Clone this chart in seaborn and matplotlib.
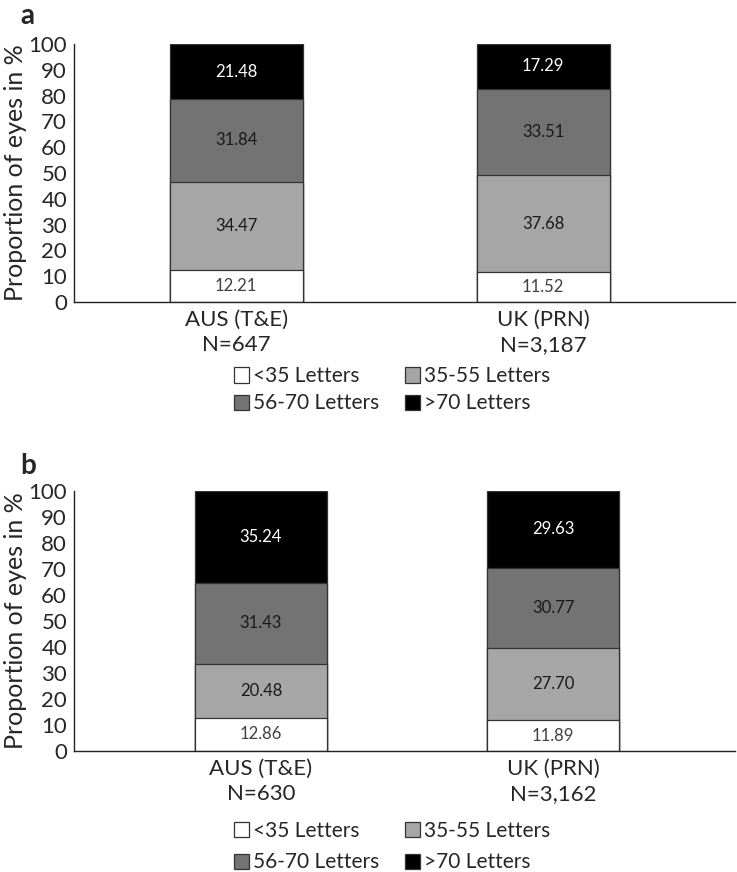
import numpy as np
import pandas as pd
import matplotlib
matplotlib.use("Agg")
import matplotlib.pyplot as plt
import seaborn as sns
from matplotlib.patches import Patch

# data
groups = ["AUS (T&E)", "UK (PRN)"]
n_a = ["N=647", "N=3,187"]
n_b = ["N=630", "N=3,162"]
categories = ["<35 Letters", "35-55 Letters", "56-70 Letters", ">70 Letters"]
panel_a = {
    "<35 Letters": [12.21, 11.52],
    "35-55 Letters": [34.47, 37.68],
    "56-70 Letters": [31.84, 33.51],
    ">70 Letters": [21.48, 17.29],
}
panel_b = {
    "<35 Letters": [12.86, 11.89],
    "35-55 Letters": [20.48, 27.70],
    "56-70 Letters": [31.43, 30.77],
    ">70 Letters": [35.24, 29.63],
}
colors = ["#ffffff", "#a6a6a6", "#737373", "#000000"]
text_colors = ["#404040", "#1a1a1a", "#1a1a1a", "#ffffff"]

sns.set_style("white")
plt.rcParams["font.family"] = ["Lato", "DejaVu Sans"]

fig = plt.figure(figsize=(7.37, 8.72), dpi=100)


def draw_panel(ax, vals, ns, xlim, width):
    df = pd.DataFrame(vals)
    df["group"] = groups
    cum = df[categories].cumsum(axis=1)
    # draw cumulative totals from the top layer down so they stack
    for i in range(len(categories) - 1, -1, -1):
        sns.barplot(x=df["group"], y=cum[categories[i]], color=colors[i],
                    edgecolor="#333333", linewidth=0.9, width=width,
                    saturation=1, ax=ax)
    for j in range(len(groups)):
        bottom = 0
        for i, c in enumerate(categories):
            v = df[c].iloc[j]
            ax.text(j, bottom + v / 2, f"{v:.2f}", ha="center", va="center",
                    fontsize=12, color=text_colors[i])
            bottom += v
    ax.set_ylim(0, 100)
    ax.set_xlim(*xlim)
    ax.set_yticks(range(0, 101, 10))
    ax.set_xticks(range(len(groups)))
    ax.set_xticklabels([f"{g}\n{n}" for g, n in zip(groups, ns)], fontsize=16,
                       linespacing=1.3)
    ax.tick_params(axis="y", labelsize=16, length=0, pad=5)
    ax.tick_params(axis="x", length=0, pad=6)
    ax.set_xlabel("")
    ax.set_ylabel("Proportion of eyes in %", fontsize=18, labelpad=1)
    for s in ["top", "right"]:
        ax.spines[s].set_visible(False)
    for s in ["left", "bottom"]:
        ax.spines[s].set_color("#222222")
        ax.spines[s].set_linewidth(1.0)


ax1 = fig.add_axes([0.1004, 0.6537, 0.897, 0.2959])
draw_panel(ax1, panel_a, n_a, (-0.528, 1.625), 0.433)
ax2 = fig.add_axes([0.1004, 0.1388, 0.897, 0.2982])
draw_panel(ax2, panel_b, n_b, (-0.64, 1.623), 0.452)

handles = [Patch(facecolor=c, edgecolor="#333333", linewidth=0.9) for c in colors]
order = [0, 2, 1, 3]
for ax, y, ls in [(ax1, 0.553, 0.35), (ax2, 0.029, 0.55)]:
    fig.legend([handles[k] for k in order], [categories[k] for k in order],
               ncol=2, loc="center", bbox_to_anchor=(0.532, y), frameon=False,
               fontsize=15, handlelength=0.75, handleheight=0.75, handletextpad=0.2,
               columnspacing=1.2, labelspacing=ls, borderaxespad=0)

fig.text(0.027, 0.997, "a", fontsize=20, fontweight="bold", va="top", ha="left")
fig.text(0.027, 0.480, "b", fontsize=20, fontweight="bold", va="top", ha="left")

fig.savefig("out.png", dpi=100)
